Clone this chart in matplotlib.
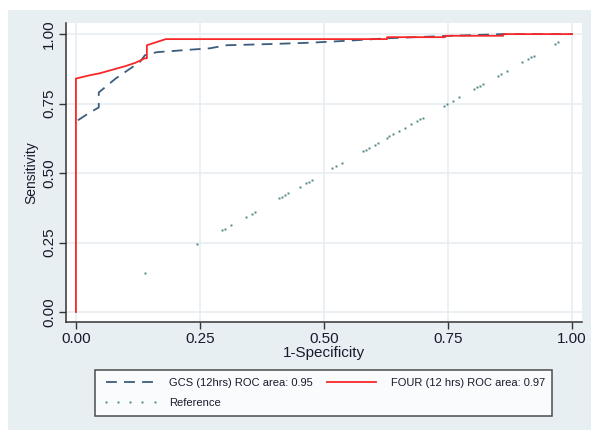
import matplotlib
matplotlib.use('Agg')

import matplotlib.pyplot as plt
from matplotlib.patches import Rectangle

# ROC curve coordinates (1-specificity, sensitivity)
gcs_fpr = [0.004, 0.028, 0.046, 0.046, 0.08, 0.129, 0.139, 0.163, 0.216, 0.27,
           0.304, 0.387, 0.472, 0.546, 0.627, 0.74, 0.86, 1.0]
gcs_tpr = [0.69, 0.718, 0.736, 0.79, 0.84, 0.90, 0.924, 0.935, 0.942, 0.949,
           0.96, 0.964, 0.969, 0.976, 0.985, 0.993, 1.0, 1.0]

four_fpr = [0.0, 0.0, 0.028, 0.048, 0.07, 0.10, 0.12, 0.139, 0.143, 0.143, 0.181,
            0.627, 0.627, 0.744, 0.744, 0.861, 0.861, 1.0]
four_tpr = [0.0, 0.84, 0.852, 0.859, 0.87, 0.885, 0.897, 0.913, 0.913, 0.96, 0.982,
            0.982, 0.989, 0.989, 0.994, 0.994, 1.0, 1.0]

# reference line, drawn only at the cutpoints
ref_pts = [0.139, 0.245, 0.294, 0.300, 0.312, 0.342, 0.354, 0.360, 0.409, 0.415,
           0.421, 0.427, 0.451, 0.463, 0.469, 0.475, 0.517, 0.524, 0.536, 0.578,
           0.584, 0.590, 0.602, 0.608, 0.626, 0.632, 0.639, 0.651, 0.663, 0.675,
           0.687, 0.693, 0.699, 0.741, 0.747, 0.759, 0.772, 0.802, 0.808, 0.814,
           0.820, 0.850, 0.856, 0.868, 0.899, 0.911, 0.917, 0.923, 0.966, 0.972]

ticks = [0.0, 0.25, 0.5, 0.75, 1.0]
tick_labels = ['0.00', '0.25', '0.50', '0.75', '1.00']

gcs_label = 'GCS (12hrs) ROC area: 0.95'
four_label = 'FOUR (12 hrs) ROC area: 0.97'
ref_label = 'Reference'

plt.rcParams['font.family'] = ['Liberation Sans', 'DejaVu Sans']

BG = '#e8eff2'
GRID = '#e6eef1'
TXT = '#1a1a2e'

fig = plt.figure(figsize=(5.91, 4.30), dpi=100)
fig.patch.set_facecolor('white')
fig.add_artist(Rectangle((8 / 591, 0), 1 - 8 / 591, 1 - 10 / 430,
                         transform=fig.transFigure, facecolor=BG,
                         edgecolor='none', zorder=-5))

ax = fig.add_axes([66 / 591, 108 / 430, 516 / 591, 299 / 430])
ax.set_zorder(1)
ax.set_facecolor('white')

ax.plot(ref_pts, ref_pts, linestyle='none', marker='s', markersize=1.4,
        markeredgewidth=0, color='#4f8585', label=ref_label, zorder=2)
ax.plot(gcs_fpr, gcs_tpr, color='#3c5c7e', lw=1.3, dashes=(6, 4),
        label=gcs_label, zorder=3)
ax.plot(four_fpr, four_tpr, color='#f82828', lw=1.3, label=four_label, zorder=4)

ax.set_xlim(-0.02, 1.02)
ax.set_ylim(-0.036, 1.04)
ax.set_xticks(ticks)
ax.set_xticklabels(tick_labels, fontsize=11, color=TXT)
ax.set_yticks(ticks)
ax.set_yticklabels(tick_labels, fontsize=11, color=TXT, rotation=90, va='center')
ax.grid(True, color=GRID, lw=1.2)
ax.set_axisbelow(True)

for side in ['top', 'right']:
    ax.spines[side].set_visible(False)
for side in ['left', 'bottom']:
    ax.spines[side].set_color('#333333')
    ax.spines[side].set_linewidth(1.1)
ax.tick_params(direction='out', length=5, width=1, color='#333333', pad=2)

ax.set_xlabel('1-Specificity', fontsize=11, color=TXT, labelpad=0)
ax.set_ylabel('Sensitivity', fontsize=10, color=TXT, labelpad=3)

h, l = ax.get_legend_handles_labels()
order = [1, 0, 2]  # GCS, Reference, FOUR -> two columns
leg = fig.legend([h[i] for i in order], [l[i] for i in order], ncol=2,
                 loc='center', mode='expand', numpoints=5,
                 bbox_to_anchor=(89 / 591, 13 / 430, 469 / 591, 48 / 430),
                 fontsize=8, frameon=True, fancybox=False, edgecolor='#222222',
                 handlelength=5, handletextpad=1.0, labelspacing=0.9,
                 borderpad=0.7, columnspacing=1.5)
leg.get_frame().set_linewidth(1.1)
for t in leg.get_texts():
    t.set_color(TXT)

plt.savefig('out.png', dpi=100)
